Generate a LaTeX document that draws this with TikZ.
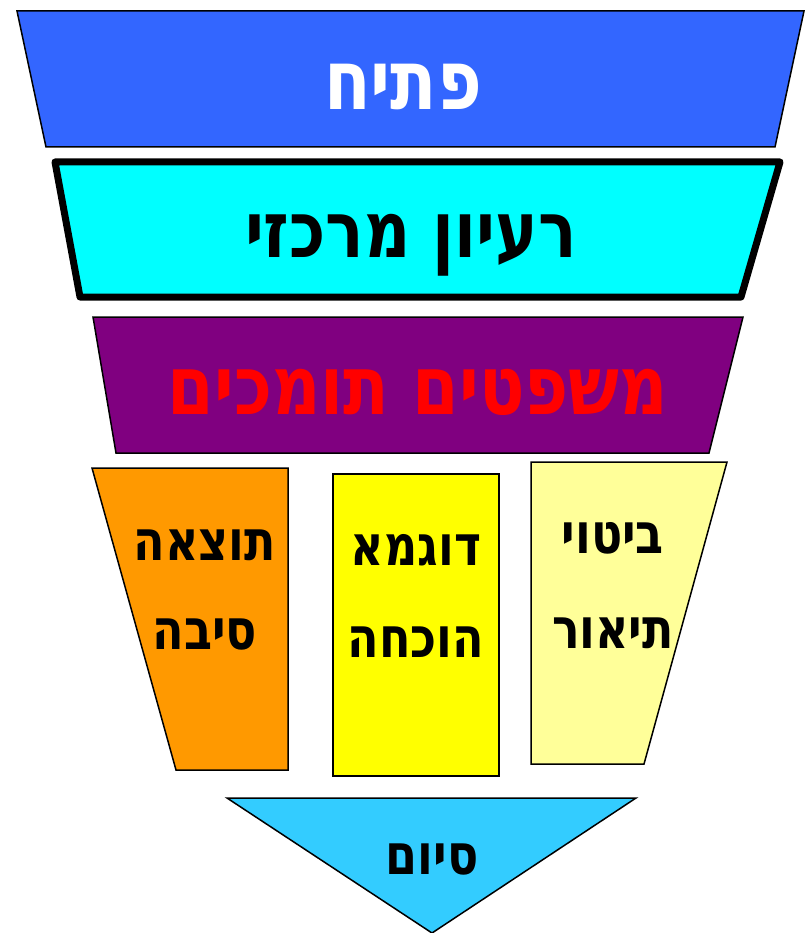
\documentclass[tikz,border=0pt]{standalone}
\usepackage{fontspec}
\usepackage{graphicx}
\newfontfamily\hebfont[Script=Hebrew]{DejaVu Sans}
\TeXXeTstate=1
\newcommand{\hebtext}[1]{\scalebox{1}[1.22]{\beginR #1\endR}}
\definecolor{openblue}{RGB}{51,102,255}
\definecolor{mainaqua}{RGB}{0,255,255}
\definecolor{suppurple}{RGB}{128,0,128}
\definecolor{causeorange}{RGB}{255,153,0}
\definecolor{exyellow}{RGB}{255,255,0}
\definecolor{paleyellow}{RGB}{255,255,153}
\definecolor{endblue}{RGB}{51,204,255}
\tikzset{
  part/.style={draw=black,line width=1.5pt},
  heb/.style={font=\hebfont\bfseries\fontsize{#1}{#1}\selectfont,inner sep=0pt}
}
\begin{document}
\begin{tikzpicture}[x=1pt,y=-1pt]
\useasboundingbox (0,0) rectangle (804,933);

% opening
\filldraw[part,fill=openblue] (17,11) -- (804,11) -- (775,147) -- (46,147) -- cycle;
\node[heb=68,text=white] (open) at (403,87) {\hebtext{פתיח}};

% main idea
\filldraw[line width=7pt,line join=round,fill=mainaqua] (55,162) -- (780,162) -- (741,297) -- (80,297) -- cycle;
\node[heb=64] (idea) at (411,245) {\hebtext{רעיון מרכזי}};

% supporting sentences
\filldraw[part,fill=suppurple] (93,317) -- (743,317) -- (709,453) -- (116,453) -- cycle;
\node[heb=67,text=red] (support) at (418,392) {\hebtext{משפטים תומכים}};

% three columns
\filldraw[part,fill=causeorange] (92,468) -- (288,468) -- (288,770) -- (176,770) -- cycle;
\node[heb=46] (result) at (205,545) {\hebtext{תוצאה}};
\node[heb=46] (cause) at (205,635) {\hebtext{סיבה}};

\filldraw[part,fill=exyellow] (333,474) rectangle (499,776);
\node[heb=46] (example) at (416,550) {\hebtext{דוגמא}};
\node[heb=46] (proof) at (416,642) {\hebtext{הוכחה}};

\filldraw[part,fill=paleyellow] (531,462) -- (727,462) -- (644,764) -- (531,764) -- cycle;
\node[heb=46] (phrase) at (613,538) {\hebtext{ביטוי}};
\node[heb=46] (descr) at (613,633) {\hebtext{תיאור}};

% ending
\filldraw[part,fill=endblue] (227,798) -- (636,798) -- (432,933) -- cycle;
\node[heb=46] (ending) at (432,859) {\hebtext{סיום}};
\end{tikzpicture}
\end{document}
